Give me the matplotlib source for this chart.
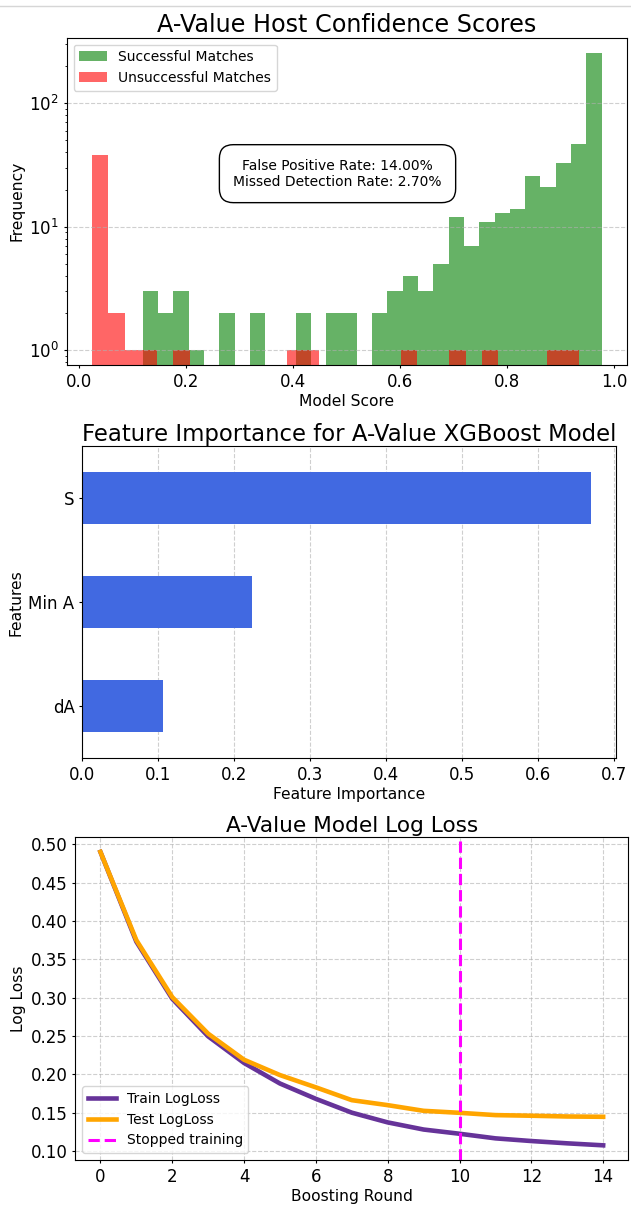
import numpy as np
import matplotlib
matplotlib.use("Agg")
import matplotlib.pyplot as plt
from matplotlib.lines import Line2D

# ---- model score histogram (per-bin counts) ----
success_range = (0.119, 0.977)
success_counts = [3, 2, 3, 1, 0, 2, 0, 2, 0, 0,
                  2, 0, 2, 2, 0, 2, 3, 4, 3, 5,
                  12, 7, 11, 13, 14, 26, 21, 33, 47, 258]
fail_range = (0.0243, 0.9352)
fail_counts = [38, 2, 1, 1, 0, 1, 0, 0, 0, 0,
               0, 0, 1, 1, 0, 0, 0, 0, 0, 1,
               0, 0, 1, 0, 1, 0, 0, 0, 1, 1]
false_positive_rate = 14.00
missed_detection_rate = 2.70

# ---- feature importance ----
features = ["dA", "Min A", "S"]
importances = [0.1066, 0.2241, 0.6693]

# ---- training curves ----
rounds = list(range(15))
train_logloss = [0.490, 0.373, 0.2985, 0.2495, 0.2148, 0.188, 0.168, 0.150,
                 0.1373, 0.128, 0.1225, 0.1165, 0.113, 0.110, 0.1074]
test_logloss = [0.490, 0.375, 0.3007, 0.253, 0.219, 0.199, 0.183, 0.1663,
                0.1598, 0.1524, 0.1498, 0.1468, 0.146, 0.145, 0.1446]
stop_round = 10

LABEL_FS = 11.2
TICK_FS = 12
LEGEND_FS = 10


def style_axes(ax):
    ax.tick_params(axis="both", which="major", labelsize=TICK_FS,
                   length=2.4, pad=3.2)
    ax.tick_params(axis="both", which="minor", length=1.4)
    ax.xaxis.labelpad = 2.4
    ax.yaxis.labelpad = 3.2


fig = plt.figure(figsize=(6.31, 12.07), dpi=100)
fig.add_artist(Line2D([0, 1], [1 - 6 / 1207, 1 - 6 / 1207], color="#d6d6d6", lw=1))

# ---------------- histogram ----------------
ax1 = fig.add_axes([0.1057, 0.6976, 0.8875, 0.2712])
s_edges = np.linspace(success_range[0], success_range[1], len(success_counts) + 1)
f_edges = np.linspace(fail_range[0], fail_range[1], len(fail_counts) + 1)
s_centers = (s_edges[:-1] + s_edges[1:]) / 2
f_centers = (f_edges[:-1] + f_edges[1:]) / 2
ax1.hist(s_centers, bins=s_edges, weights=success_counts, color="green",
         alpha=0.6, log=True, label="Successful Matches")
ax1.hist(f_centers, bins=f_edges, weights=fail_counts, color="red",
         alpha=0.6, log=True, label="Unsuccessful Matches")
ax1.set_ylim(10 ** -0.1206, 10 ** 2.532)
ax1.set_xlim(-0.0233, 1.0240)
ax1.set_title("A-Value Host Confidence Scores", fontsize=17.2, pad=3.8)
ax1.set_xlabel("Model Score", fontsize=LABEL_FS)
ax1.set_ylabel("Frequency", fontsize=LABEL_FS)
style_axes(ax1)
ax1.grid(axis="y", linestyle="--", alpha=0.6)
ax1.legend(loc="upper left", fontsize=LEGEND_FS)
ax1.text(0.4836, 0.5845,
         f"False Positive Rate: {false_positive_rate:.2f}%\n"
         f"Missed Detection Rate: {missed_detection_rate:.2f}%",
         transform=ax1.transAxes, ha="center", va="center", fontsize=LEGEND_FS,
         bbox=dict(boxstyle="round,pad=1.0", facecolor="white", edgecolor="black"))

# ---------------- feature importance ----------------
ax2 = fig.add_axes([0.1304, 0.37175, 0.8458, 0.2587])
ypos = np.arange(len(features))
ax2.barh(ypos, importances, height=0.5, color="royalblue")
ax2.set_yticks(ypos)
ax2.set_yticklabels(features)
ax2.set_ylim(-0.5, len(features) - 0.5)
ax2.set_title("Feature Importance for A-Value XGBoost Model", fontsize=16.4, pad=3.8)
ax2.set_xlabel("Feature Importance", fontsize=LABEL_FS)
ax2.set_ylabel("Features", fontsize=LABEL_FS)
style_axes(ax2)
ax2.grid(axis="x", linestyle="--", alpha=0.6)
ax2.set_axisbelow(True)

# ---------------- log loss ----------------
ax3 = fig.add_axes([0.1193, 0.03894, 0.8764, 0.2674])
ax3.plot(rounds, train_logloss, color="rebeccapurple", lw=3.3, label="Train LogLoss")
ax3.plot(rounds, test_logloss, color="orange", lw=3.3, label="Test LogLoss")
ax3.axvline(stop_round, color="magenta", linestyle="--", lw=2.2, label="Stopped training")
ax3.set_title("A-Value Model Log Loss", fontsize=15.6, pad=3.8)
ax3.set_xlabel("Boosting Round", fontsize=LABEL_FS)
ax3.set_ylabel("Log Loss", fontsize=LABEL_FS)
style_axes(ax3)
ax3.grid(True, linestyle="--", alpha=0.6)
ax3.legend(loc="lower left", fontsize=LEGEND_FS)

fig.savefig("out.png", dpi=100)
